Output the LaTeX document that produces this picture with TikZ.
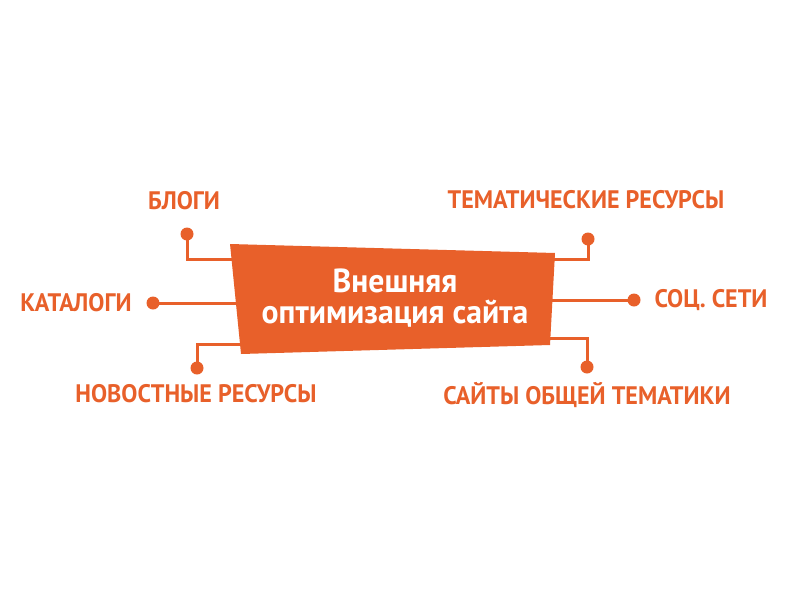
\documentclass[tikz,border=0pt]{standalone}
\usepackage{fontspec}
\setmainfont{PT Sans}[FakeStretch=0.95]
\definecolor{brand}{HTML}{E8602A}

\tikzset{
  tag/.style={text=brand, font=\bfseries\fontsize{19}{21}\selectfont, inner sep=0pt},
  dot/.style={circle, fill=brand, inner sep=0pt, minimum size=9.75pt},
  wire/.style={draw=brand, line width=2.25pt}
}

\begin{document}
\begin{tikzpicture}[x=0.75pt, y=-0.75pt]
\useasboundingbox (0,0) rectangle (800,600);

\node (blogi dot) at (187,234) [dot] {};
\node (tema dot) at (588,239) [dot] {};
\node (katalog dot) at (153,303) [dot] {};
\node (soc dot) at (634,300) [dot] {};
\node (novost dot) at (197,368) [dot] {};
\node (saity dot) at (587,367) [dot] {};

\coordinate (blogi end) at (240,259);
\coordinate (tema end) at (545,259);
\coordinate (katalog end) at (245,303);
\coordinate (soc end) at (545,300);
\coordinate (novost end) at (250,344);
\coordinate (saity end) at (540,338);

\draw [wire] (blogi dot.center) |- (blogi end);
\draw [wire] (tema dot.center) |- (tema end);
\draw [wire] (katalog dot.center) -- (katalog end);
\draw [wire] (soc dot.center) -- (soc end);
\draw [wire] (novost dot.center) |- (novost end);
\draw [wire] (saity dot.center) |- (saity end);

\fill [brand] (230,244) -- (555,253) -- (550,345) -- (241,354) -- cycle;
\node (site) at (395,298) [text=white, font=\bfseries\fontsize{25}{23}\selectfont, align=center] {Внешняя\\оптимизация сайта};

\node (blogi) at (184,201) [tag] {БЛОГИ};
\node (tema) at (586,200) [tag] {ТЕМАТИЧЕСКИЕ РЕСУРСЫ};
\node (katalog) at (76,303) [tag] {КАТАЛОГИ};
\node (soc) at (711,300) [tag] {СОЦ. СЕТИ};
\node (novost) at (196,394) [tag] {НОВОСТНЫЕ РЕСУРСЫ};
\node (saity) at (587,395) [tag] {САЙТЫ ОБЩЕЙ ТЕМАТИКИ};

\end{tikzpicture}
\end{document}
